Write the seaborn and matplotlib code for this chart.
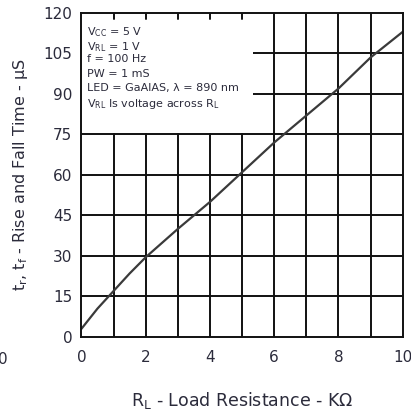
import pandas as pd
import matplotlib.pyplot as plt
import matplotlib.patches as patches
import seaborn as sns

# Rise/fall time vs load resistance
load_kohm = [0, 0.5, 1, 1.5, 2, 3, 4, 5, 6, 7, 8, 9, 10]
rise_fall_us = [3, 10.5, 17, 23.5, 29.5, 40, 50, 61, 72, 82, 92, 103.5, 113]

x_ticks = [0, 2, 4, 6, 8, 10]
y_ticks = [0, 15, 30, 45, 60, 75, 90, 105, 120]

conditions = [
    r"V$_\mathrm{CC}$ = 5 V",
    r"V$_\mathrm{RL}$ = 1 V",
    "f = 100 Hz",
    "PW = 1 mS",
    "LED = GaAlAS, λ = 890 nm",
    r"V$_\mathrm{RL}$ Is voltage across R$_\mathrm{L}$",
]

df = pd.DataFrame({"R_L": load_kohm, "t": rise_fall_us})

sns.set_style("white")
plt.rcParams['font.family'] = ['DejaVu Sans']
plt.rcParams['mathtext.fontset'] = 'dejavusans'

fig = plt.figure(figsize=(4.11, 4.15), dpi=100)
ax = fig.add_axes([0.198, 0.188, 0.782, 0.781])

sns.lineplot(data=df, x="R_L", y="t", color="#3a3a3a", linewidth=1.6, ax=ax, zorder=4)

ax.set_xlim(0, 10)
ax.set_ylim(0, 120)
ax.set_xticks(range(0, 11))
ax.set_xticklabels([str(v) if v in x_ticks else "" for v in range(0, 11)])
ax.set_yticks(y_ticks)

# grid
for v in range(1, 10):
    ax.axvline(v, color="#111111", lw=1.4, zorder=1)
for v in y_ticks[1:-1]:
    ax.axhline(v, color="#111111", lw=1.4, zorder=1)

# white box holding the test conditions
ax.add_patch(patches.Rectangle((0, 75.7), 5.35, 44.3, facecolor="white",
                               edgecolor="none", zorder=2))
# short stubs hanging from the top edge inside the box
for v in range(1, 6):
    ax.plot([v, v], [120, 117.6], color="#111111", lw=1.4, zorder=3)
for i, line in enumerate(conditions):
    ax.text(0.18, 115.3 - i * 5.3, line, fontsize=8, color="#2b2b3b",
            va="top", ha="left", zorder=3)

for s in ax.spines.values():
    s.set_color("#111111")
    s.set_linewidth(1.4)
    s.set_zorder(5)
ax.spines["top"].set_visible(True)
ax.spines["right"].set_visible(True)

ax.tick_params(axis="both", direction="inout", length=7, width=1.4,
               color="#111111", labelsize=11, labelcolor="#2b2b3b")
ax.tick_params(axis="x", pad=6)
ax.tick_params(axis="y", pad=3)

ax.set_xlabel(r"R$_\mathrm{L}$ - Load Resistance - KΩ", fontsize=12.5, color="#2b2b3b", labelpad=18)
ax.set_ylabel(r"t$_\mathrm{r}$, t$_\mathrm{f}$ - Rise and Fall Time - µS", fontsize=11.5,
              color="#2b2b3b", labelpad=10)

# stray label cut from the neighbouring chart
fig.text(-0.006, 0.133, "0", fontsize=11, color="#2b2b3b", va="center", ha="left")

fig.savefig("out.png", dpi=100, facecolor="white")
plt.close(fig)
